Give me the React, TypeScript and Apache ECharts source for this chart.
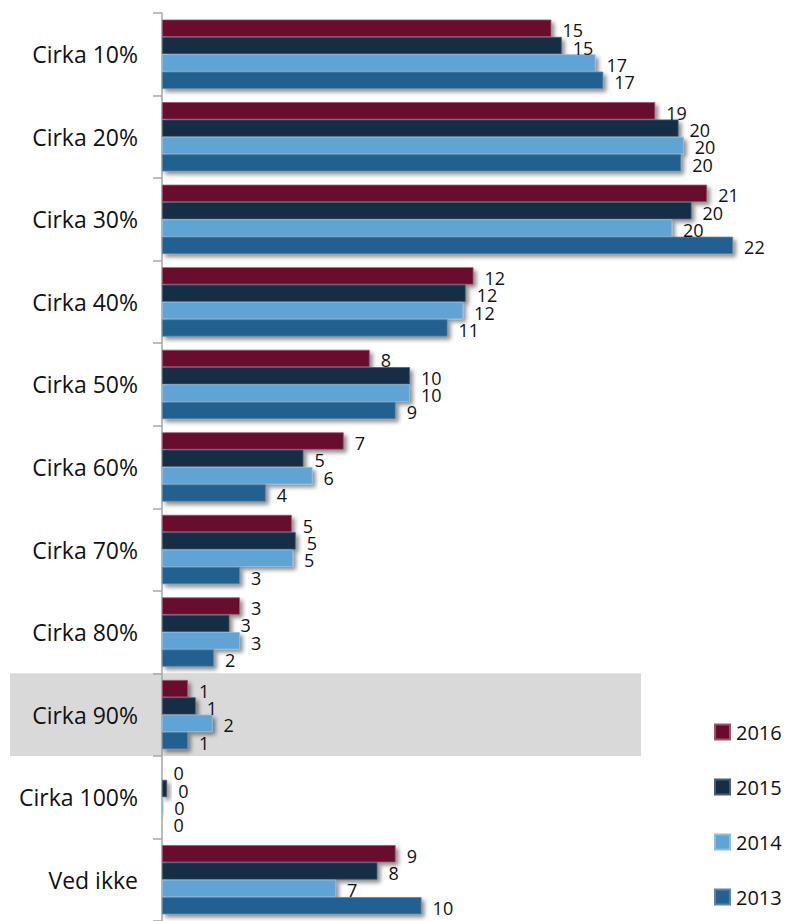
import React, { useEffect, useRef } from "react";
import * as echarts from "echarts";

const categories = [
  "Cirka 10%",
  "Cirka 20%",
  "Cirka 30%",
  "Cirka 40%",
  "Cirka 50%",
  "Cirka 60%",
  "Cirka 70%",
  "Cirka 80%",
  "Cirka 90%",
  "Cirka 100%",
  "Ved ikke",
];
const seriesNames = ["2016", "2015", "2014", "2013"];
const v2016 = [15.0, 19.0, 21.0, 12.0, 8.0, 7.0, 5.0, 3.0, 1.0, 0, 9.0];
const v2015 = [15.4, 19.9, 20.4, 11.7, 9.55, 5.45, 5.15, 2.6, 1.3, 0.2, 8.3];
const v2014 = [16.7, 20.1, 19.65, 11.6, 9.55, 5.8, 5.05, 3.0, 1.95, 0.05, 6.7];
const v2013 = [17.0, 20.0, 22.0, 11.0, 9.0, 4.0, 3.0, 2.0, 1.0, 0, 10.0];
const seriesValues = [v2016, v2015, v2014, v2013];
const colors = ["#690b2d", "#152e45", "#5fa4d5", "#24618f"];
const borders = ["#9a5670", "#4a5f74", "#8cbde2", "#5a86aa"];
const highlighted = "Cirka 90%";

const FONT = "'Open Sans', 'Noto Sans', sans-serif";

export default function App() {
  const ref = useRef<HTMLDivElement>(null);

  useEffect(() => {
    if (!ref.current) return;
    const chart = echarts.init(ref.current, undefined, { renderer: "svg" });
    const gridTop = 13;
    const gridHeight = 912;
    const option: any = {
      animation: false,
      backgroundColor: "#ffffff",
      textStyle: { fontFamily: FONT },
      grid: { left: 162, top: gridTop, width: 625, height: gridHeight },
      legend: {
        orient: "vertical",
        left: 709,
        top: 717,
        itemWidth: 15,
        itemHeight: 15,
        itemGap: 35,
        icon: "rect",
        data: seriesNames,
        textStyle: { fontSize: 20, color: "#111", fontFamily: FONT, lineHeight: 19, padding: [0, 0, 0, 1] },
      },
      xAxis: {
        type: "value",
        min: 0,
        max: 24,
        show: false,
        splitLine: { show: false },
      },
      yAxis: {
        type: "category",
        data: categories,
        inverse: true,
        axisLine: { show: true, lineStyle: { color: "#a6a6a6", width: 1.5 } },
        axisTick: { show: true, length: 9, lineStyle: { color: "#a6a6a6", width: 1.5 } },
        axisLabel: { fontSize: 23, color: "#111", margin: 24, fontFamily: FONT },
      },
      series: seriesNames.map((name, i) => ({
        name,
        type: "bar",
        data: seriesValues[i],
        barGap: "0%",
        barCategoryGap: "16%",
        itemStyle: {
          color: colors[i],
          borderColor: borders[i],
          borderWidth: 0.8,
          shadowColor: "rgba(0,0,0,0.45)",
          shadowBlur: 4,
          shadowOffsetX: 3,
          shadowOffsetY: 3,
        },
        label: {
          show: true,
          position: "right",
          distance: 11,
          offset: [0, 2],
          fontSize: 18,
          color: "#111",
          fontFamily: FONT,
          formatter: (p: any) => String(Math.round(p.value)),
        },
      })),
    };
    chart.setOption(option);
    const yc = chart.convertToPixel({ yAxisIndex: 0 }, highlighted) as number;
    const bandH = gridHeight / categories.length;
    chart.setOption({
      graphic: [
        {
          type: "rect",
          z: -10,
          silent: true,
          shape: { x: 10, y: yc - bandH / 2, width: 631, height: bandH },
          style: { fill: "#d9d9d9" },
        },
      ],
    });
    return () => chart.dispose();
  }, []);

  return (
    <div
      ref={ref}
      style={{ position: "absolute", left: 0, top: 0, width: 785, height: 921 }}
    />
  );
}
